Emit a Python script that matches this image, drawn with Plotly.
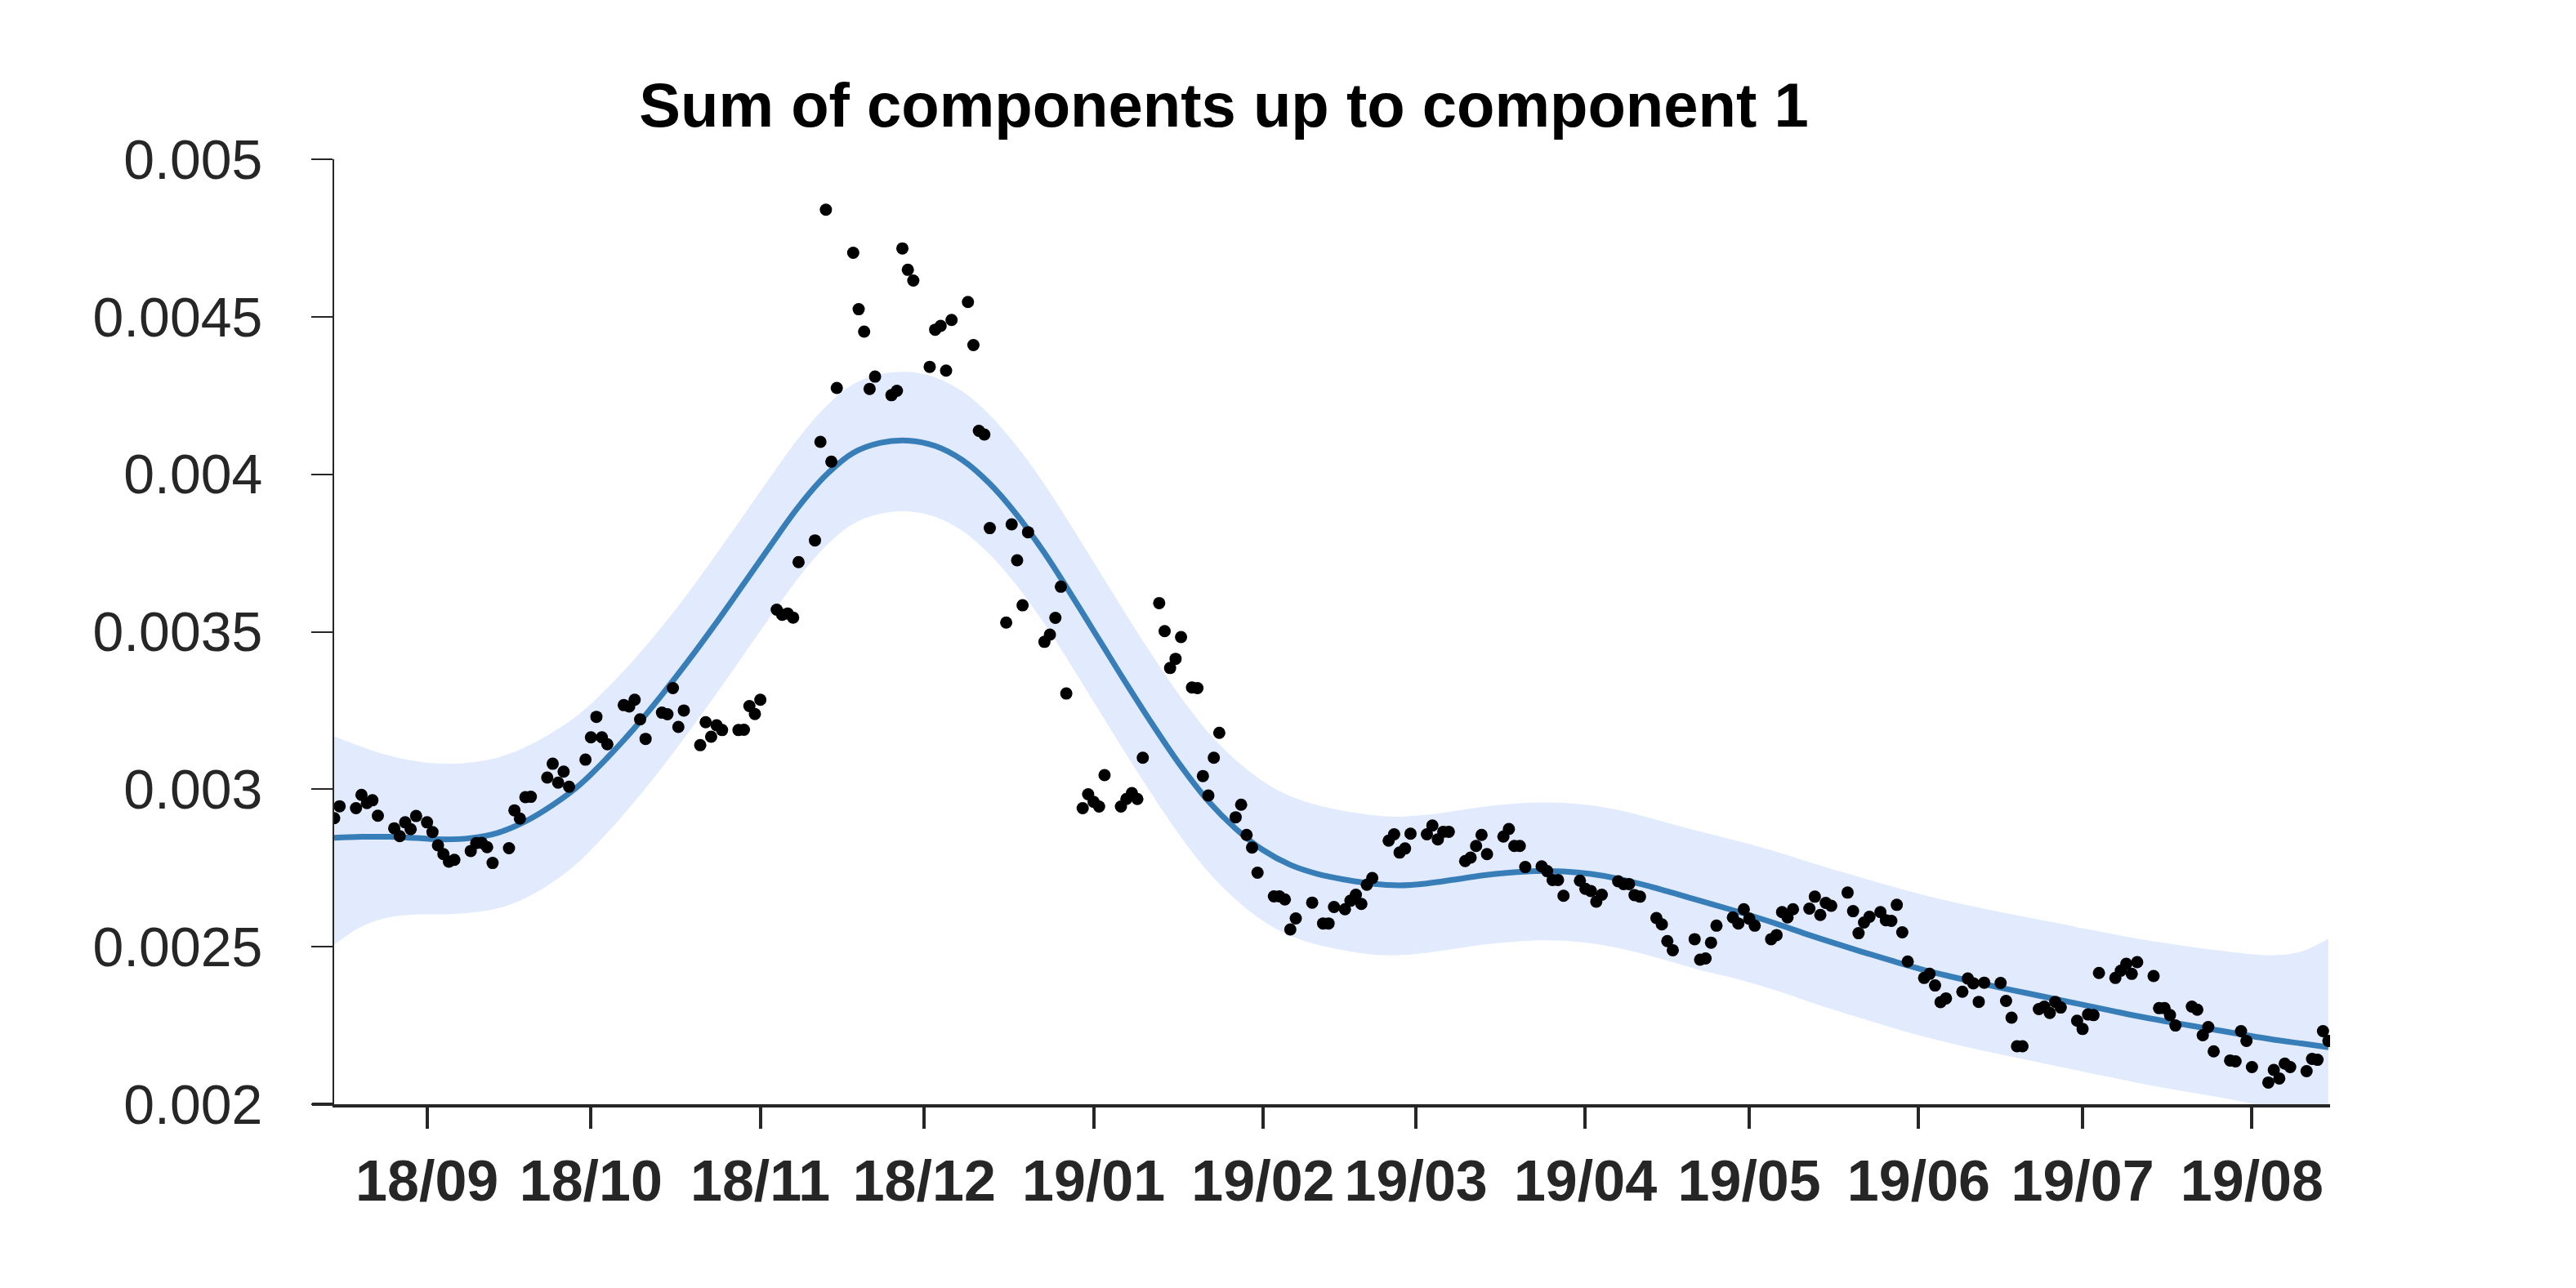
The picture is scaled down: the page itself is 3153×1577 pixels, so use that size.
import pandas as pd
import plotly.graph_objects as go

BASE = pd.Timestamp("2018-09-01")

# observed points: day offset from 2018-09-01 and value
obs_day = [-17,-16,-13,-12,-11,-10,-9,-6,-5,-4,-3,-2,0,1,2,3,4,5,8,9,10,11,12,15,16,17,18,19,
           22,23,24,25,26,29,30,31,32,33,36,37,38,39,40,43,44,45,46,47,
           50,51,52,53,54,57,58,59,60,61,64,65,66,67,68,71,72,73,74,75,78,79,80,81,82,
           85,86,87,88,89,92,93,94,95,96,99,100,101,102,103,106,107,108,109,110,
           113,114,115,116,117,120,121,122,123,124,127,128,129,130,131,134,135,136,137,138,
           140,141,142,143,144,145,148,149,150,151,152,155,156,157,158,159,162,
           164,165,166,168,169,170,171,172,173,176,177,178,179,180,183,184,185,186,187,
           190,191,192,193,194,197,198,199,200,201,204,205,206,207,208,211,212,213,214,215,
           218,219,220,221,222,225,226,227,228,232,233,234,235,236,
           239,240,241,242,243,246,247,248,249,250,253,254,255,256,257,260,261,262,263,264,
           266,267,268,269,270,271,274,275,276,277,278,281,282,283,284,285,288,289,290,291,292,
           295,296,297,298,299,302,303,304,305,306,309,310,311,312,313,316,317,318,319,320,
           323,324,325,326,327,330,331,332,333,334,337,338,339,340,341,344,345,346,347,348]
obs_value = [0.002908,0.002946,0.002940,0.002982,0.002956,0.002965,0.002916,0.002876,0.002851,0.002895,
             0.002873,0.002915,0.002895,0.002864,0.002822,0.002794,0.002770,0.002776,0.002804,0.002829,
             0.002830,0.002816,0.002766,0.002813,0.002933,0.002907,0.002975,0.002976,
             0.003037,0.003081,0.003021,0.003056,0.003008,0.003094,0.003165,0.003230,0.003165,0.003143,
             0.003267,0.003263,0.003284,0.003222,0.003160,0.003243,0.003238,0.003321,0.003198,0.003250,
             0.003140,0.003213,0.003167,0.003203,0.003188,0.003188,0.003189,0.003264,0.003239,0.003284,
             0.003570,0.003554,0.003558,0.003545,0.003721,0.003790,0.004103,0.004840,0.004040,0.004274,
             0.004703,0.004524,0.004453,0.004271,0.004310,
             0.004251,0.004265,0.004717,0.004649,0.004615,0.004341,0.004459,0.004471,0.004329,0.004490,
             0.004547,0.004410,0.004138,0.004126,0.003829,0.003529,0.003841,0.003727,0.003584,0.003816,
             0.003468,0.003491,0.003544,0.003643,0.003304,0.002940,0.002984,0.002960,0.002945,0.003045,
             0.002945,0.002969,0.002988,0.002969,0.003100,0.003591,0.003502,0.003385,0.003414,0.003483,
             0.003323,0.003321,0.003042,0.002980,0.003100,0.003179,0.002911,0.002951,0.002855,0.002815,0.002735,
             0.002660,0.002660,0.002650,0.002555,0.002590,0.002640,
             0.002574,0.002574,0.002626,0.002619,0.002646,0.002665,0.002636,0.002697,0.002718,
             0.002837,0.002857,0.002799,0.002812,0.002859,0.002857,0.002885,0.002841,0.002865,0.002865,
             0.002772,0.002783,0.002820,0.002855,0.002794,0.002850,0.002874,0.002820,0.002820,0.002753,
             0.002755,0.002740,0.002712,0.002712,0.002662,0.002710,0.002684,0.002677,0.002643,0.002665,
             0.002708,0.002699,0.002699,0.002664,0.002659,0.002591,0.002571,0.002518,0.002489,
             0.002524,0.002459,0.002463,0.002513,0.002567,
             0.002593,0.002574,0.002619,0.002589,0.002567,0.002524,0.002537,0.002610,0.002593,0.002619,
             0.002621,0.002659,0.002601,0.002639,0.002630,0.002672,0.002613,0.002543,0.002577,0.002595,
             0.002610,0.002584,0.002582,0.002633,0.002546,0.002453,
             0.002401,0.002414,0.002377,0.002324,0.002336,0.002357,0.002399,0.002384,0.002325,0.002386,
             0.002385,0.002328,0.002275,0.002184,0.002184,
             0.002302,0.002310,0.002290,0.002325,0.002307,0.002265,0.002239,0.002285,0.002283,0.002417,
             0.002401,0.002424,0.002446,0.002414,0.002451,0.002407,0.002305,0.002305,0.002283,0.002250,
             0.002310,0.002300,0.002219,0.002245,0.002168,0.002139,0.002136,0.002232,0.002201,0.002118,
             0.002069,0.002109,0.002082,0.002129,0.002118,0.002105,0.002144,0.002141,0.002232,0.002201]

# fitted curve and its band, sampled every 5 days
curve_day = list(range(-17, 349, 5))
curve_mean = [0.002846,0.002849,0.002849,0.002845,0.002841,0.002845,0.002862,0.002898,0.002950,0.003015,
              0.003100,0.003195,0.003300,0.003412,0.003530,0.003653,0.003777,0.003897,0.003997,0.004068,
              0.004100,0.004107,0.004090,0.004045,0.003970,0.003870,0.003750,0.003615,0.003475,0.003335,
              0.003200,0.003073,0.002962,0.002875,0.002807,0.002760,0.002731,0.002713,0.002700,0.002695,
              0.002701,0.002713,0.002726,0.002735,0.002740,0.002739,0.002731,0.002716,0.002695,0.002671,
              0.002646,0.002621,0.002595,0.002567,0.002537,0.002509,0.002482,0.002456,0.002431,0.002409,
              0.002389,0.002370,0.002352,0.002334,0.002316,0.002298,0.002280,0.002264,0.002249,0.002234,
              0.002219,0.002205,0.002193,0.002181]
curve_upper = [0.003168,0.003135,0.003107,0.003089,0.003081,0.003085,0.003101,0.003134,0.003181,0.003241,
               0.003322,0.003414,0.003517,0.003628,0.003748,0.003871,0.003995,0.004115,0.004215,0.004286,
               0.004318,0.004325,0.004308,0.004263,0.004188,0.004088,0.003968,0.003833,0.003693,0.003553,
               0.003418,0.003291,0.003180,0.003093,0.003025,0.002978,0.002949,0.002931,0.002918,0.002913,
               0.002919,0.002931,0.002944,0.002953,0.002958,0.002957,0.002949,0.002934,0.002913,0.002889,
               0.002866,0.002844,0.002821,0.002796,0.002768,0.002742,0.002717,0.002692,0.002668,0.002647,
               0.002628,0.002610,0.002593,0.002576,0.002559,0.002542,0.002526,0.002512,0.002499,0.002488,
               0.002478,0.002473,0.002485,0.002526]
curve_lower = [0.002506,0.002564,0.002593,0.002602,0.002603,0.002608,0.002622,0.002654,0.002705,0.002773,
               0.002862,0.002961,0.003069,0.003184,0.003304,0.003428,0.003552,0.003672,0.003772,0.003843,
               0.003875,0.003882,0.003865,0.003820,0.003745,0.003645,0.003525,0.003390,0.003250,0.003110,
               0.002975,0.002848,0.002737,0.002650,0.002582,0.002535,0.002506,0.002488,0.002475,0.002473,
               0.002481,0.002493,0.002506,0.002515,0.002520,0.002519,0.002511,0.002496,0.002475,0.002451,
               0.002426,0.002405,0.002382,0.002355,0.002325,0.002297,0.002270,0.002244,0.002219,0.002197,
               0.002177,0.002158,0.002140,0.002122,0.002104,0.002086,0.002068,0.002052,0.002037,0.002022,
               0.002005,0.001983,0.001943,0.001851]

month_ticks = ["2018-09-01","2018-10-01","2018-11-01","2018-12-01","2019-01-01","2019-02-01",
               "2019-03-01","2019-04-01","2019-05-01","2019-06-01","2019-07-01","2019-08-01"]
month_labels = ["18/09","18/10","18/11","18/12","19/01","19/02",
                "19/03","19/04","19/05","19/06","19/07","19/08"]
y_ticks = [0.002, 0.0025, 0.003, 0.0035, 0.004, 0.0045, 0.005]
y_labels = ["0.002", "0.0025", "0.003", "0.0035", "0.004", "0.0045", "0.005"]

obs_x = [BASE + pd.Timedelta(days=d) for d in obs_day]
curve_x = [BASE + pd.Timedelta(days=d) for d in curve_day]

AX = "#262626"
FONT = "Liberation Sans, Arial, Helvetica, sans-serif"

fig = go.Figure()
fig.add_trace(go.Scatter(x=curve_x, y=curve_lower, mode="lines", line=dict(width=0, shape="spline"),
                         hoverinfo="skip", showlegend=False))
fig.add_trace(go.Scatter(x=curve_x, y=curve_upper, mode="lines", line=dict(width=0, shape="spline"),
                         fill="tonexty", fillcolor="rgb(226,235,253)", hoverinfo="skip", showlegend=False))
fig.add_trace(go.Scatter(x=curve_x, y=curve_mean, mode="lines",
                         line=dict(color="rgb(55,126,184)", width=7, shape="spline"), showlegend=False))
fig.add_trace(go.Scatter(x=obs_x, y=obs_value, mode="markers",
                         marker=dict(color="black", size=15, line=dict(width=0)), showlegend=False))

fig.update_layout(
    width=3153, height=1577,
    margin=dict(l=409, r=301, t=195, b=225),
    paper_bgcolor="white", plot_bgcolor="white",
    font=dict(family=FONT, color=AX),
    title=dict(text="<b>Sum of components up to component 1</b>", x=1498/3153, xref="container",
               xanchor="center", y=1-128/1577, yref="container", yanchor="middle",
               font=dict(size=76, color="black", family=FONT)),
    xaxis=dict(type="date", range=[BASE + pd.Timedelta(days=-17), BASE + pd.Timedelta(days=348.3)],
               tickmode="array", tickvals=month_ticks, ticktext=month_labels,
               ticks="outside", ticklen=26, tickwidth=4, tickcolor=AX,
               showline=True, linewidth=4, linecolor=AX, showgrid=False, zeroline=False,
               tickfont=dict(size=70, color=AX, family=FONT, weight="bold"),
               ticklabelstandoff=4),
    yaxis=dict(range=[0.002, 0.005], tickmode="array", tickvals=y_ticks, ticktext=y_labels,
               ticks="outside", ticklen=26, tickwidth=2, tickcolor=AX,
               showline=True, linewidth=2, linecolor=AX, showgrid=False, zeroline=False,
               tickfont=dict(size=68, color=AX, family=FONT),
               ticklabelstandoff=46),
    shapes=[dict(type="line", xref="paper", yref="paper", x0=-27/2443, x1=0, y0=0, y1=0,
                 line=dict(color=AX, width=4))],
)

fig.write_html("out.html")
